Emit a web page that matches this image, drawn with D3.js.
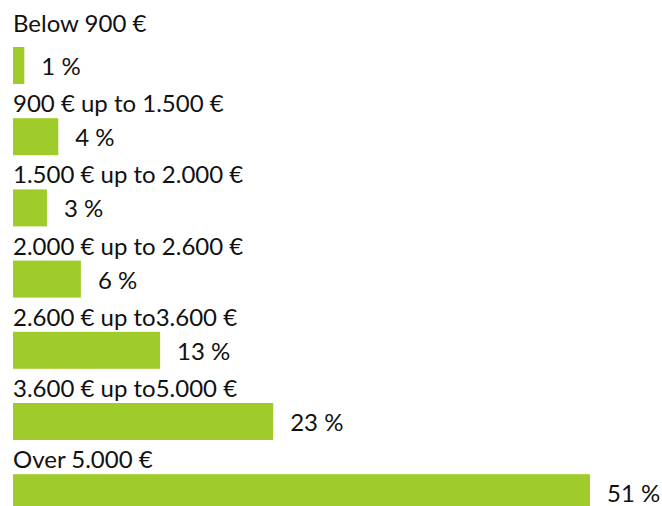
<!DOCTYPE html>
<meta charset="utf-8">
<style>
body { margin: 0; background: #fff; }
.cat, .pct {
  font-family: Lato, "Open Sans", sans-serif;
  font-size: 24px;
  fill: #111;
}
</style>
<svg width="662" height="506"></svg>
<script src="https://d3js.org/d3.v7.min.js"></script>
<script>

var categories = [
  "Below 900 €",
  "900 € up to 1.500 €",
  "1.500 € up to 2.000 €",
  "2.000 € up to 2.600 €",
  "2.600 € up to3.600 €",
  "3.600 € up to5.000 €",
  "Over 5.000 €"
];
var shares = [1, 4, 3, 6, 13, 23, 51];

var svg = d3.select("svg"),
    left = 13,
    barH = 37;

var x = d3.scaleLinear()
    .domain([0, 51])
    .range([left, 590]);

var y = d3.scaleBand()
    .domain(categories)
    .range([47, 47 + 7 * 71.2])
    .padding(0);

var rows = svg.selectAll("g.row")
  .data(categories.map(function(c, i) { return { cat: c, v: shares[i], i: i }; }))
  .enter().append("g")
    .attr("class", "row");

rows.append("rect")
    .attr("x", x(0))
    .attr("y", function(d) { return y(d.cat); })
    .attr("width", function(d) { return x(d.v) - x(0); })
    .attr("height", barH)
    .attr("fill", "#9fcc2a");

// category name sits just above its bar (first one a bit higher)
rows.append("text")
    .attr("class", "cat")
    .attr("x", left)
    .attr("y", function(d) { return y(d.cat) - (d.i === 0 ? 15 : 6); })
    .text(function(d) { return d.cat; });

rows.append("text")
    .attr("class", "pct")
    .attr("x", function(d) { return x(d.v) + 17; })
    .attr("y", function(d) { return y(d.cat) + 28; })
    .text(function(d) { return d.v + " %"; });

</script>
